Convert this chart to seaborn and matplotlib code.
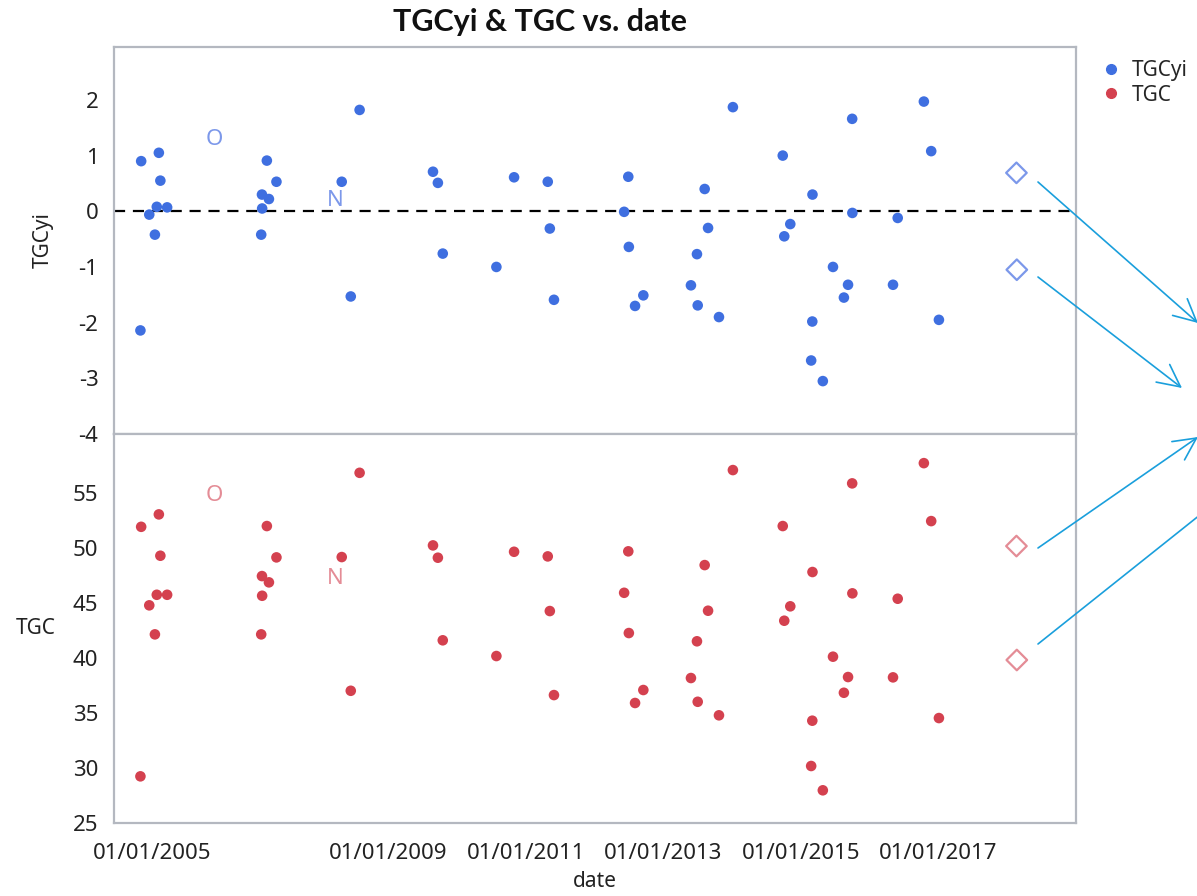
import pandas as pd
import matplotlib.pyplot as plt
import seaborn as sns
from matplotlib.lines import Line2D
from matplotlib.patches import FancyArrowPatch
import matplotlib.transforms as mtransforms

# =========================================================
# DATA
# =========================================================

dates = [
    "2005-05-27", "2005-05-23", "2005-07-09", "2005-08-29", "2005-09-06",
    "2005-08-08", "2005-08-18", "2005-10-12", "2007-03-26", "2007-05-16",
    "2007-02-28", "2007-04-06", "2007-03-01", "2007-02-24", "2008-04-27",
    "2008-07-31", "2008-06-14", "2009-08-25", "2009-09-20", "2009-10-16",
    "2010-07-28", "2010-10-30", "2011-04-27", "2011-05-08", "2011-05-30",
    "2014-01-05", "2012-06-28", "2012-06-06", "2012-07-01", "2012-09-16",
    "2012-08-03", "2013-08-08", "2013-08-26", "2013-06-28", "2013-05-27",
    "2013-07-02", "2013-10-23", "2014-09-27", "2015-03-04", "2014-11-06",
    "2014-10-05", "2015-03-03", "2015-02-25", "2015-04-28", "2015-10-01",
    "2015-10-02", "2015-06-21", "2015-09-09", "2015-08-18", "2016-05-30",
    "2016-05-05", "2016-10-16", "2016-11-24", "2017-01-04",
]

tgcyi = [
    0.90, -2.14, -0.06, 1.05, 0.55, -0.42, 0.08, 0.07, 0.91, 0.53,
    0.30, 0.22, 0.05, -0.42, 0.53, 1.82, -1.53, 0.71, 0.51, -0.76,
    -1.00, 0.61, 0.53, -0.31, -1.59, 1.87, 0.62, -0.01, -0.64, -1.51,
    -1.70, 0.40, -0.30, -0.77, -1.33, -1.69, -1.90, 1.00, 0.30, -0.23,
    -0.45, -1.98, -2.68, -3.05, 1.66, -0.03, -1.00, -1.32, -1.55, -0.12,
    -1.32, 1.97, 1.08, -1.95,
]

tgc = [
    51.96, 29.27, 44.82, 53.09, 49.33, 42.18, 45.78, 45.78, 52.03, 49.18,
    47.48, 46.91, 45.69, 42.18, 49.21, 56.87, 37.05, 50.27, 49.15, 41.64,
    40.21, 49.69, 49.27, 44.30, 36.66, 57.12, 49.73, 45.96, 42.30, 37.12,
    35.94, 48.48, 44.33, 41.55, 38.21, 36.05, 34.82, 52.03, 47.85, 44.73,
    43.42, 34.33, 30.21, 28.00, 55.91, 45.91, 40.15, 38.30, 36.87, 45.42,
    38.27, 57.75, 52.48, 34.57,
]

# projected values (open diamonds)
proj_dates = ["2018-02-20", "2018-02-22"]
proj_tgcyi = [0.69, -1.05]
proj_tgc = [50.21, 39.85]

# row-state letters
letter_text = ["O", "N"]
letter_dates = ["2006-06-20", "2008-03-21"]
letter_tgcyi = [1.29, 0.20]
letter_tgc = [54.8, 47.3]

x_ticks = ["2005-01-01", "2007-01-01", "2009-01-01", "2011-01-01",
           "2013-01-01", "2015-01-01", "2017-01-01", "2019-01-01"]
x_tick_labels = ["01/01/2005", "", "01/01/2009", "01/01/2011",
                 "01/01/2013", "01/01/2015", "01/01/2017", ""]
top_ticks = [-4, -3, -2, -1, 0, 1, 2]
bottom_ticks = [25, 30, 35, 40, 45, 50, 55]

# =========================================================
# STYLE
# =========================================================

sns.set_style("white")
plt.rcParams["font.family"] = ["Noto Sans", "DejaVu Sans"]

BLUE = "#3f6fe0"
RED = "#d4414f"
BLUE_LIGHT = "#7c98ea"
RED_LIGHT = "#e48c96"
FRAME = "#b4b8c0"
ARROW = "#1a9fdc"

df = pd.DataFrame({"date": pd.to_datetime(dates), "TGCyi": tgcyi, "TGC": tgc})
proj = pd.DataFrame({"date": pd.to_datetime(proj_dates),
                     "TGCyi": proj_tgcyi, "TGC": proj_tgc})
letters = pd.DataFrame({"date": pd.to_datetime(letter_dates), "text": letter_text,
                        "TGCyi": letter_tgcyi, "TGC": letter_tgc})

# =========================================================
# FIGURE
# =========================================================

W, H = 1197, 896
fig = plt.figure(figsize=(W / 100, H / 100), dpi=100)

left = 113.7 / W
width = (1075.7 - 113.7) / W
y_top, y_mid, y_bot = 1 - 47 / H, 1 - 434 / H, 1 - 823.3 / H

ax1 = fig.add_axes([left, y_mid, width, y_top - y_mid])
ax2 = fig.add_axes([left, y_bot, width, y_mid - y_bot], sharex=ax1)

panels = [
    (ax1, "TGCyi", BLUE, BLUE_LIGHT, top_ticks, (-4, 2.95)),
    (ax2, "TGC", RED, RED_LIGHT, bottom_ticks, (25, 60.4)),
]

for ax, col, color, light, ticks, ylim in panels:

    sns.scatterplot(data=df, x="date", y=col, color=color, s=58,
                    edgecolor="none", ax=ax, zorder=3)

    sns.scatterplot(data=proj, x="date", y=col, marker="D", s=110,
                    facecolor="none", edgecolor=light, linewidth=1.6,
                    ax=ax, zorder=3)

    for _, row in letters.iterrows():
        ax.text(row["date"], row[col], row["text"], color=light,
                fontsize=16, ha="center", va="center")

    ax.set_ylim(*ylim)
    ax.set_yticks(ticks)
    ax.set_yticklabels([str(t) for t in ticks])

    for sp in ax.spines.values():
        sp.set_color(FRAME)
        sp.set_linewidth(1.6)

    ax.tick_params(axis="y", direction="out", length=7, width=1.4,
                   color=FRAME, labelsize=16, labelcolor="#222222", pad=4)
    ax.set_xlabel("")
    ax.set_ylabel("")

ax1.axhline(0, color="black", lw=1.6, ls=(0, (5, 3.5)), zorder=2)

ax1.set_xlim(pd.Timestamp(x_ticks[0]), pd.Timestamp(x_ticks[-1]))
ax2.set_xticks(pd.to_datetime(x_ticks))
ax2.set_xticklabels(x_tick_labels)
ax1.tick_params(axis="x", bottom=False, labelbottom=False)
ax2.tick_params(axis="x", direction="out", length=11, width=1.4,
                color=FRAME, labelsize=16, labelcolor="#222222", pad=3)

# first date label sits right of its tick
shift = mtransforms.ScaledTranslation(38 / 100, 0, fig.dpi_scale_trans)
first = ax2.get_xticklabels()[0]
first.set_transform(first.get_transform() + shift)

# axis labels
ax1.set_ylabel("TGCyi", fontsize=15, color="#222222")
ax1.yaxis.set_label_coords((54 - 113.7) / 962, 0.5)
ax2.set_ylabel("TGC", fontsize=15, color="#222222", rotation=0,
               ha="right", va="center")
ax2.yaxis.set_label_coords((56 - 113.7) / 962, 0.5)
ax2.set_xlabel("date", fontsize=15, color="#222222")
ax2.xaxis.set_label_coords(0.5, -0.122)

fig.text(540 / W, 1 - 22 / H, "TGCyi & TGC vs. date", ha="center",
         va="center", fontsize=22, fontweight="bold", color="#111111",
         family=["Lato", "Open Sans", "DejaVu Sans"])

# legend
handles = [
    Line2D([], [], marker="o", ls="", color=BLUE, markersize=7),
    Line2D([], [], marker="o", ls="", color=RED, markersize=7),
]
fig.legend(handles, ["TGCyi", "TGC"], loc="upper left",
           bbox_to_anchor=(1088 / W, 1 - 50 / H), frameon=False,
           fontsize=15, handletextpad=0.4, labelspacing=0.15,
           handlelength=1.2, borderpad=0)

# arrows (figure pixels)
arrow_paths = [
    ((1038, 182), (1198, 323)),
    ((1038, 277), (1182, 388)),
    ((1038, 548), (1198, 437)),
    ((1038, 644), (1240, 483)),
]
for (x0, y0), (x1, y1) in arrow_paths:
    fig.add_artist(FancyArrowPatch(
        (x0 / W, 1 - y0 / H), (x1 / W, 1 - y1 / H),
        transform=fig.transFigure, arrowstyle="->,head_length=0.8,head_width=0.4",
        mutation_scale=20, color=ARROW, lw=1.2, shrinkA=0, shrinkB=0))

fig.savefig("out.png", dpi=100, facecolor="white")
